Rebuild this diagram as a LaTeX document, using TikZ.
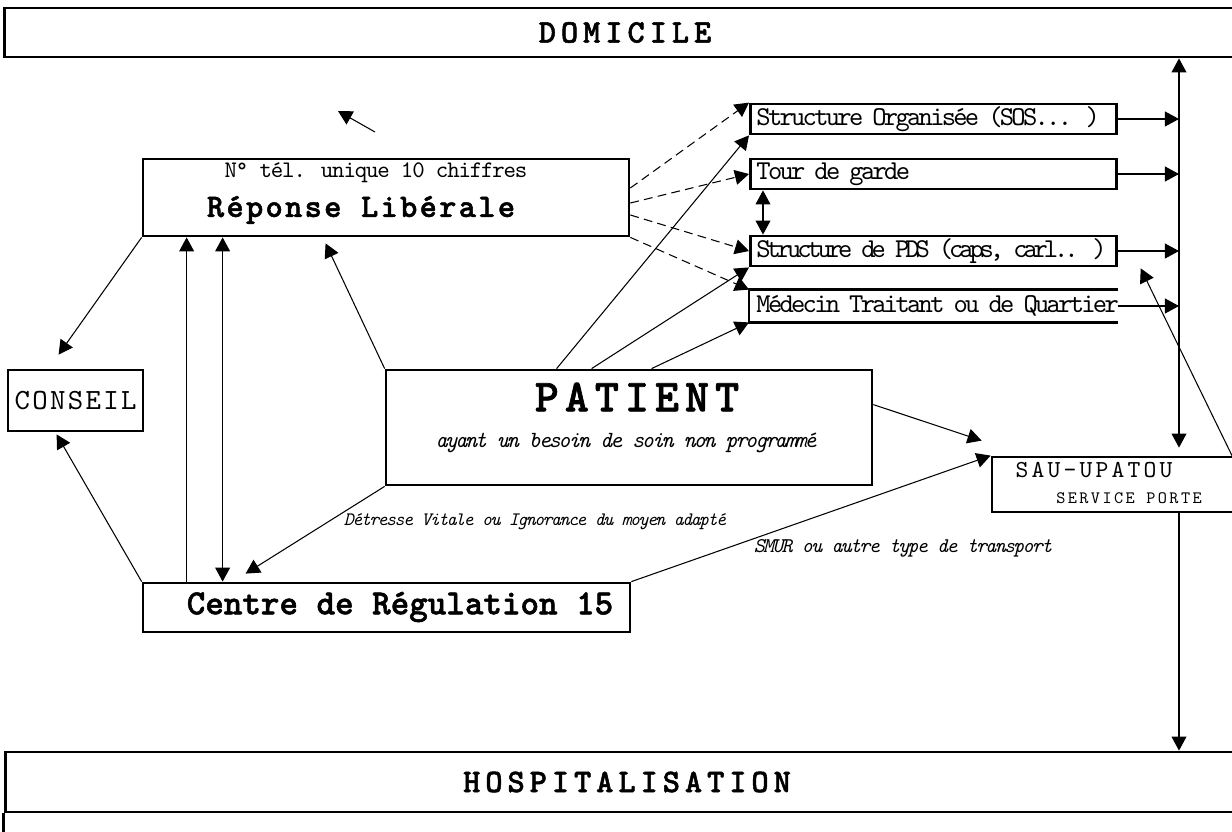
\documentclass[tikz,border=0pt]{standalone}
\usepackage{fontspec}
\usetikzlibrary{arrows.meta}
\newfontfamily\tw{lmmono10-regular.otf}[ItalicFont=lmmono10-italic.otf,BoldFont=lmmonolt10-bold.otf,BoldFeatures={FakeBold=1.5}]
% size, shape, letter spacing
\newcommand{\twf}[3]{\fontsize{#1}{#1}\selectfont\tw#2\addfontfeature{LetterSpace=#3}}
\tikzset{
  box/.style={draw, line width=1.6pt, inner sep=0pt},
  sbox/.style={box, anchor=west, minimum height=0.6cm, inner xsep=0.12cm, text width=7.08cm, align=left, font=\twf{15.5}{}{-10}},
  arr/.style={-{Triangle[length=8pt,width=8.5pt]}, line width=0.6pt},
  dbl/.style={{Triangle[length=8pt,width=8.5pt]}-{Triangle[length=8pt,width=8.5pt]}, line width=0.6pt},
  dsh/.style={arr, dash pattern=on 5pt off 3pt}
}

\begin{document}
\begin{tikzpicture}[x=0.02cm, y=-0.02cm]
    \useasboundingbox (0,0) rectangle (1232,832);

    \node[box, minimum width=24.84cm, minimum height=0.98cm, font=\twf{18.7}{\bfseries}{15}] (dom) at (625,32.5) {DOMICILE};
    \node[box, minimum width=24.88cm, minimum height=1.2cm, font=\twf{18.7}{\bfseries}{15}] (hosp) at (627,782) {HOSPITALISATION};
    \draw[line width=1.6pt] (hosp.south west) -- ++(0,40);

    \node[box, minimum width=9.72cm, minimum height=1.54cm] (rep) at (386,197.5) {};
    \node[font=\twf{13.5}{}{-5}] (reptel) at (376,173) {N° tél. unique 10 chiffres};
    \node[font=\twf{18.7}{\bfseries}{7}] (replib) at (361,210) {Réponse Libérale};

    \node[box, minimum width=2.7cm, minimum height=1.22cm, font=\twf{16.7}{}{8}] (cons) at (75.5,400.5) {CONSEIL};

    \node[box, minimum width=9.72cm, minimum height=2.3cm] (pat) at (629,427.5) {};
    \node[font=\twf{26.1}{\bfseries}{13}] (patt) at (637,397) {PATIENT};
    \node[font=\twf{13.2}{\itshape}{-10}] (patsub) at (626,443) {ayant un besoin de soin non programmé};

    \node[box, minimum width=9.74cm, minimum height=0.98cm] (cen) at (386.5,607.5) {};
    \node[font=\twf{20.1}{\bfseries}{0}] (centxt) at (400,607) {Centre de Régulation 15};

    \node[box, minimum width=5.16cm, minimum height=1.1cm] (sau) at (1121,484.5) {};
    \node[font=\twf{13.9}{}{13}] (sau1) at (1094,470) {SAU-UPATOU};
    \node[font=\twf{9.9}{}{14}] (sau2) at (1129,498) {SERVICE PORTE};

    \node[sbox] (s1) at (749,119) {\mbox{Structure Organisée (SOS... )}};
    \node[sbox] (s2) at (749,174) {\mbox{Tour de garde}};
    \node[sbox, font=\twf{15.5}{}{-15}] (s3) at (749,251) {\mbox{Structure de PDS (caps, carl.. )}};
    \node[sbox, draw=none] (med) at (749,306) {\mbox{Médecin Traitant ou de Quartier}};
    \draw[line width=1.6pt] (med.north east) -- (med.north west) -- (med.south west) -- (med.south east);

    \node[font=\twf{10.8}{\itshape}{-8}] (lbdet) at (535,522) {Détresse Vitale ou Ignorance du moyen adapté};
    \node[font=\twf{11.9}{\itshape}{-8}] (lbsmur) at (903,548) {SMUR ou autre type de transport};

    \coordinate (rail) at (1179,300);
    \coordinate (lone1) at (375,132);
    \coordinate (lone2) at (338,111);

    \path[dsh]
    ([yshift=0.19cm]rep.east) edge (s1.north west)
    ([yshift=-0.11cm]rep.east) edge (s2.west)
    ([yshift=-0.35cm]rep.east) edge (s3.west)
    (rep.south east) edge (med.north west)
    ;
    \path[arr]
    (lone1) edge (lone2)
    (rep.south west) edge ([xshift=1.04cm,yshift=0.28cm]cons.north west)
    (cen.north west) edge ([xshift=1cm,yshift=-0.04cm]cons.south west)
    ([xshift=0.9cm]cen.north west) edge ([xshift=0.9cm]rep.south west)
    (pat.north west) edge ([xshift=3.68cm,yshift=-0.12cm]rep.south west)
    ([xshift=3.44cm]pat.north west) edge (s1.south west)
    ([xshift=4.14cm]pat.north west) edge (s3.south west)
    ([xshift=5.34cm]pat.north west) edge (med.south west)
    ([yshift=-0.72cm]pat.north east) edge ([xshift=-0.18cm,yshift=0.3cm]sau.north west)
    (pat.south west) edge ([xshift=2.08cm,yshift=0.16cm]cen.north west)
    (cen.north east) edge (sau.north west)
    (s1.east) edge (s1.east -| rail)
    (s2.east) edge (s2.east -| rail)
    (s3.east) edge (s3.east -| rail)
    (med.east) edge (med.east -| rail)
    ([xshift=2.22cm]sau.north) edge ([xshift=0.46cm,yshift=-0.02cm]s3.south east)
    (sau.south -| rail) edge (hosp.north -| rail)
    ;
    \path[dbl]
    ([xshift=1.62cm]rep.south west) edge ([xshift=1.62cm]cen.north west)
    ([xshift=0.28cm]s2.south west) edge ([xshift=0.28cm]s3.north west)
    (dom.south -| rail) edge[shorten >=0.16cm] (sau.north -| rail)
    ;
\end{tikzpicture}
\end{document}
